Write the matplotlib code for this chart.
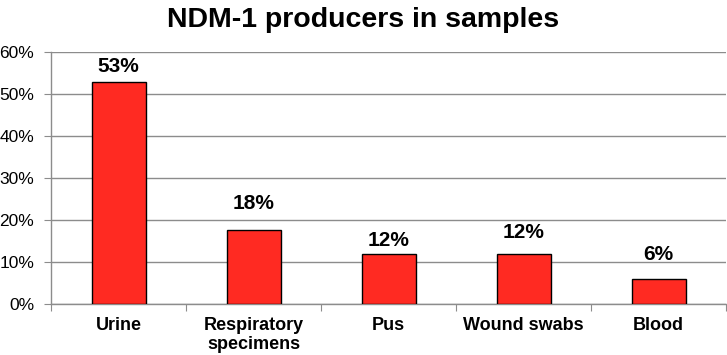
import matplotlib
matplotlib.use("Agg")
import matplotlib.pyplot as plt
from matplotlib.ticker import FuncFormatter, FixedLocator

# data
categories = ["Urine", "Respiratory\nspecimens", "Pus", "Wound swabs", "Blood"]
shares = [52.9, 17.6, 11.8, 11.8, 5.9]
labels = ["53%", "18%", "12%", "12%", "6%"]

plt.rcParams['font.family'] = ['Liberation Sans', 'DejaVu Sans']

fig = plt.figure(figsize=(7.27, 3.55), dpi=100)
ax = fig.add_axes([51 / 727, 51 / 355, 675 / 727, 252 / 355])

x = list(range(len(categories)))
ax.bar(x, shares, width=0.4, color="#FF2A22", edgecolor="black", linewidth=1.0, zorder=3)

# label offsets in points (Excel places them a bit unevenly)
offsets = [11, 19, 10, 16, 18]
for xi, v, lab, off in zip(x, shares, labels, offsets):
    ax.annotate(lab, (xi, v), xytext=(0, off), textcoords="offset points",
                ha="center", va="center", fontsize=15, fontweight="bold")

ax.set_xlim(-0.5, len(categories) - 0.5)
ax.set_ylim(0, 60)
ax.set_yticks(range(0, 61, 10))
ax.yaxis.set_major_formatter(FuncFormatter(lambda v, p: f"{int(v)}%"))
ax.grid(axis="y", color="#8c8c8c", linewidth=1.0, zorder=0)

ax.xaxis.set_major_locator(FixedLocator([i - 0.5 for i in range(len(categories) + 1)]))
ax.set_xticklabels([])
ax.set_xticks(x, minor=True)
ax.set_xticklabels(categories, minor=True, fontsize=13, fontweight="bold", va="top",
                   linespacing=1.2)
ax.tick_params(axis="x", which="minor", length=0, pad=9)
ax.tick_params(axis="x", which="major", length=5, color="#8c8c8c", direction="out")
ax.tick_params(axis="y", length=5, color="#8c8c8c", labelsize=12.5, pad=7)

for s in ["top", "right"]:
    ax.spines[s].set_visible(False)
for s in ["left", "bottom"]:
    ax.spines[s].set_color("#8c8c8c")
    ax.spines[s].set_linewidth(1.0)

fig.text(0.5, 1 - 20 / 355, "NDM-1 producers in samples", ha="center", va="center",
         fontsize=20.5, fontweight="bold")

fig.savefig("out.png", dpi=100)
